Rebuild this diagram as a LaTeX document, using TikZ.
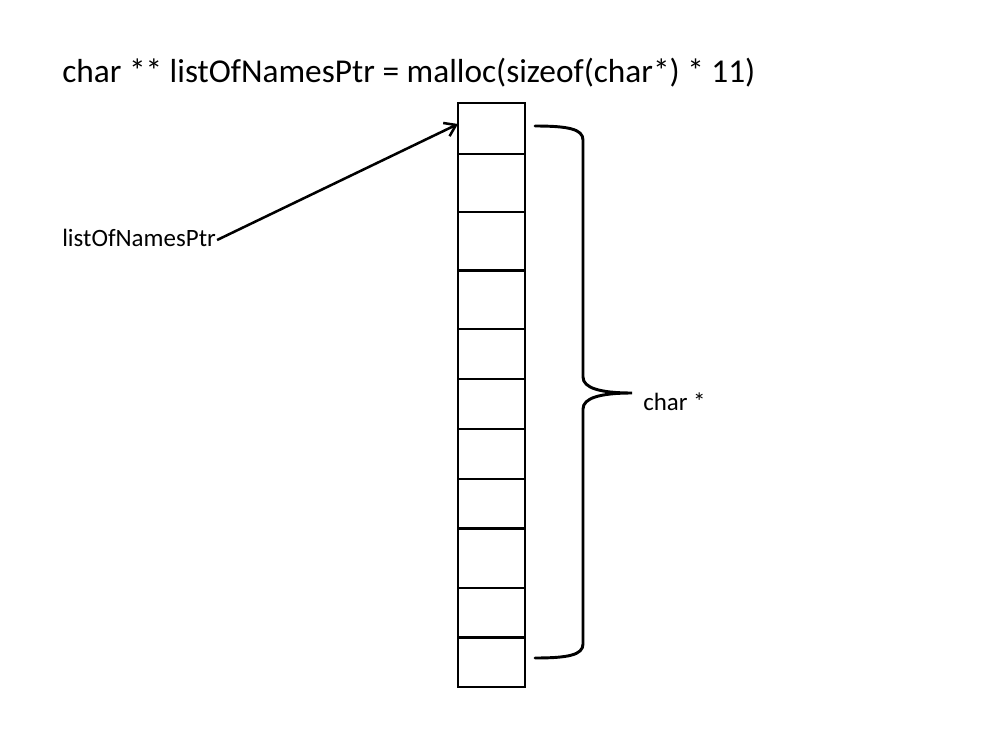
\documentclass[tikz,border=0pt]{standalone}
\usepackage{fontspec}
\setmainfont{Carlito}
\usetikzlibrary{arrows.meta}
\tikzset{
  cell/.style={draw=black, line width=1.6pt, rectangle, minimum width=67*0.75pt, inner sep=0pt, outer sep=0pt, fill=white},
  titletext/.style={font=\fontsize{25}{30}\selectfont, anchor=base west, inner sep=0pt},
  label/.style={font=\fontsize{18.7}{22}\selectfont, anchor=base west, inner sep=0pt},
  ptrarrow/.style={line width=1.9pt, -{Straight Barb[length=8pt,width=11pt,line width=1.9pt]}},
  bracestyle/.style={line width=2.2pt, line cap=round},
}
\begin{document}
\begin{tikzpicture}[x=0.75pt, y=-0.75pt]
\useasboundingbox (0,0) rectangle (1000,750);
\node[titletext] (title) at (62,82) {char ** listOfNamesPtr = malloc(sizeof(char*) * 11)};
\foreach \i/\t/\b in {1/103/154, 2/154/212, 3/212/270.5, 4/270.5/329, 5/329/379, 6/379/429, 7/429/479, 8/479/528.5, 9/528.5/588, 10/588/637.5, 11/637.5/687}{
  \node[cell, minimum height={(\b-\t)*0.75pt}] (c\i) at (491.5,{(\t+\b)/2}) {};
}
\node[label] (ptr) at (62,246) {listOfNamesPtr};
\coordinate (tip) at (458,124);
\draw[ptrarrow] (ptr.base east) ++(1,-6) coordinate (ptrend) -- (tip);
% brace
\coordinate (btop) at (535,126);
\coordinate (bbot) at (535,658);
\coordinate (bmid) at (632,393);
\draw[bracestyle] (btop) .. controls (568,126) and (583,129) .. (583,140)
  -- (583,377) .. controls (583,388) and (600,393) .. (bmid)
  .. controls (600,393) and (583,398) .. (583,409)
  -- (583,644) .. controls (583,655) and (568,658) .. (bbot);
\node[label] (ct) at (643,410) {char *};
\end{tikzpicture}
\end{document}
